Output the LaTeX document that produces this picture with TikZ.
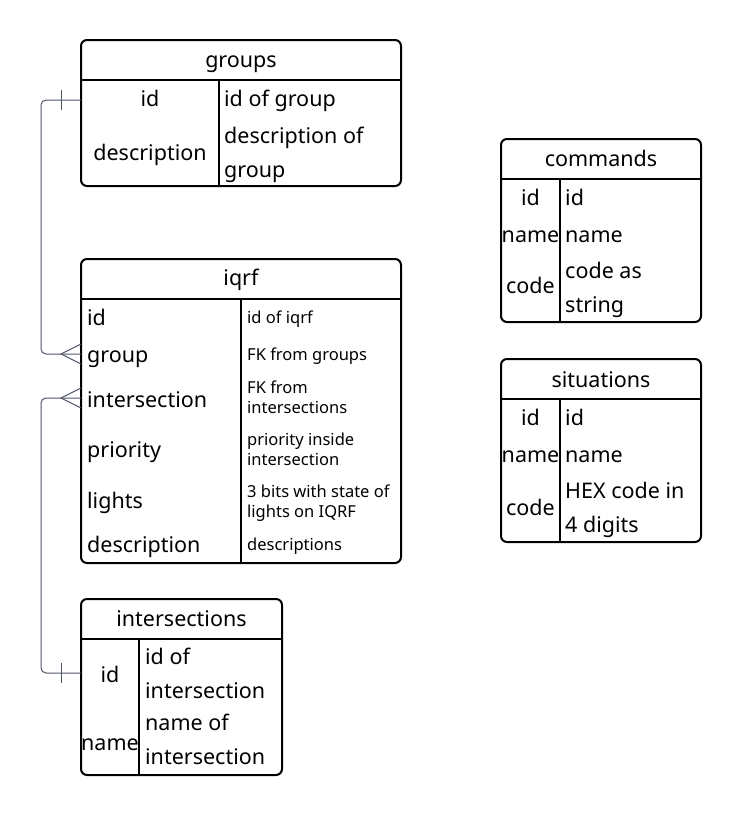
\documentclass[tikz,border=0pt]{standalone}
\usepackage{fontspec}
\setmainfont{Noto Sans}
\definecolor{connc}{HTML}{505668}
\begin{document}
\begin{tikzpicture}[x=1pt,y=-1pt,
  tbl/.style={draw=black, line width=2pt, rounded corners=6pt, inner sep=0pt, outer sep=0pt, anchor=north west},
  sep/.style={draw=black, line width=2pt},
  big/.style={font=\fontsize{21.5}{33.5}\selectfont, inner sep=0pt},
  small/.style={font=\fontsize{16.5}{20}\selectfont, inner sep=0pt},
  conn/.style={draw=connc, line width=1pt, rounded corners=5pt},
  endmark/.style={draw=connc, line width=1pt}
]
\useasboundingbox (0,0) rectangle (741,817);

% ---------- groups ----------
\node[tbl, minimum width=320pt, minimum height=146pt] (groups) at (81,40) {};
\draw[sep] (81,80) -- (401,80);
\draw[sep] (219,80) -- (219,186);
\node[big, anchor=base] (g-title) at (241,67) {groups};
\node[big, anchor=base] (g-id) at (150,106.5) {id};
\node[big, anchor=base] (g-desc) at (150,160) {description};
\node[big, anchor=base west] (g-id-d) at (224,106.5) {id of group};
\node[big, anchor=north west, align=left] (g-desc-d) at (224,127) {description of\\group};

% ---------- iqrf ----------
\node[tbl, minimum width=320pt, minimum height=304pt] (iqrf) at (81,259) {};
\draw[sep] (81,299) -- (401,299);
\draw[sep] (241,299) -- (241,563);
\node[big, anchor=base] (i-title) at (241,285) {iqrf};
\node[big, anchor=base west] (i-id) at (87,325) {id};
\node[big, anchor=base west] (i-group) at (87,362) {group};
\node[big, anchor=base west] (i-inter) at (87,407) {intersection};
\node[big, anchor=base west] (i-prio) at (87,457) {priority};
\node[big, anchor=base west] (i-lights) at (87,508) {lights};
\node[big, anchor=base west] (i-desc) at (87,552) {description};
\node[small, anchor=base west] (i-id-d) at (247,323) {id of iqrf};
\node[small, anchor=base west] (i-group-d) at (247,360) {FK from groups};
\node[small, anchor=north west, align=left] (i-inter-d) at (247,380.5) {FK from\\intersections};
\node[small, anchor=north west, align=left] (i-prio-d) at (247,432.5) {priority inside\\intersection};
\node[small, anchor=north west, align=left] (i-lights-d) at (247,484.5) {3 bits with state of\\lights on IQRF};
\node[small, anchor=base west] (i-desc-d) at (247,550) {descriptions};

% ---------- intersections ----------
\node[tbl, minimum width=201pt, minimum height=176pt] (inters) at (81,599) {};
\draw[sep] (81,639) -- (282,639);
\draw[sep] (139,639) -- (139,775);
\node[big, anchor=base] (n-title) at (181.5,626) {intersections};
\node[big, anchor=base] (n-id) at (110,682) {id};
\node[big, anchor=base] (n-name) at (110,750) {name};
\node[big, anchor=north west, align=left] (n-id-d) at (145,648) {id of\\intersection};
\node[big, anchor=north west, align=left] (n-name-d) at (145,714) {name of\\intersection};

% ---------- commands ----------
\node[tbl, minimum width=200pt, minimum height=183pt] (commands) at (501,139) {};
\draw[sep] (501,179) -- (701,179);
\draw[sep] (560,179) -- (560,322);
\node[big, anchor=base] (c-title) at (601,166) {commands};
\node[big, anchor=base] (c-id) at (530.5,205) {id};
\node[big, anchor=base] (c-name) at (530.5,242) {name};
\node[big, anchor=base] (c-code) at (530.5,293) {code};
\node[big, anchor=base west] (c-id-d) at (565,205) {id};
\node[big, anchor=base west] (c-name-d) at (565,242) {name};
\node[big, anchor=north west, align=left] (c-code-d) at (565,262) {code as\\string};

% ---------- situations ----------
\node[tbl, minimum width=200pt, minimum height=183pt] (situations) at (501,359) {};
\draw[sep] (501,399) -- (701,399);
\draw[sep] (560,399) -- (560,542);
\node[big, anchor=base] (s-title) at (601,387) {situations};
\node[big, anchor=base] (s-id) at (530.5,425) {id};
\node[big, anchor=base] (s-name) at (530.5,462) {name};
\node[big, anchor=base] (s-code) at (530.5,515) {code};
\node[big, anchor=base west] (s-id-d) at (565,425) {id};
\node[big, anchor=base west] (s-name-d) at (565,462) {name};
\node[big, anchor=north west, align=left] (s-code-d) at (565,482) {HEX code in\\4 digits};

% ---------- connectors ----------
\coordinate (gattach) at (groups.west |- 0,100);
\coordinate (iattach1) at (iqrf.west |- 0,354);
\coordinate (iattach2) at (iqrf.west |- 0,398);
\coordinate (nattach) at (inters.west |- 0,673);

\draw[conn] (gattach) -- (41,100) -- (41,354) -- (iattach1);
\draw[endmark] (61,90) -- (61,110);
\draw[endmark] (iqrf.west |- 0,344) -- (61,354) -- (iqrf.west |- 0,364);

\draw[conn] (iattach2) -- (41,398) -- (41,673) -- (nattach);
\draw[endmark] (iqrf.west |- 0,388) -- (61,398) -- (iqrf.west |- 0,408);
\draw[endmark] (61,663) -- (61,683);
\end{tikzpicture}
\end{document}
